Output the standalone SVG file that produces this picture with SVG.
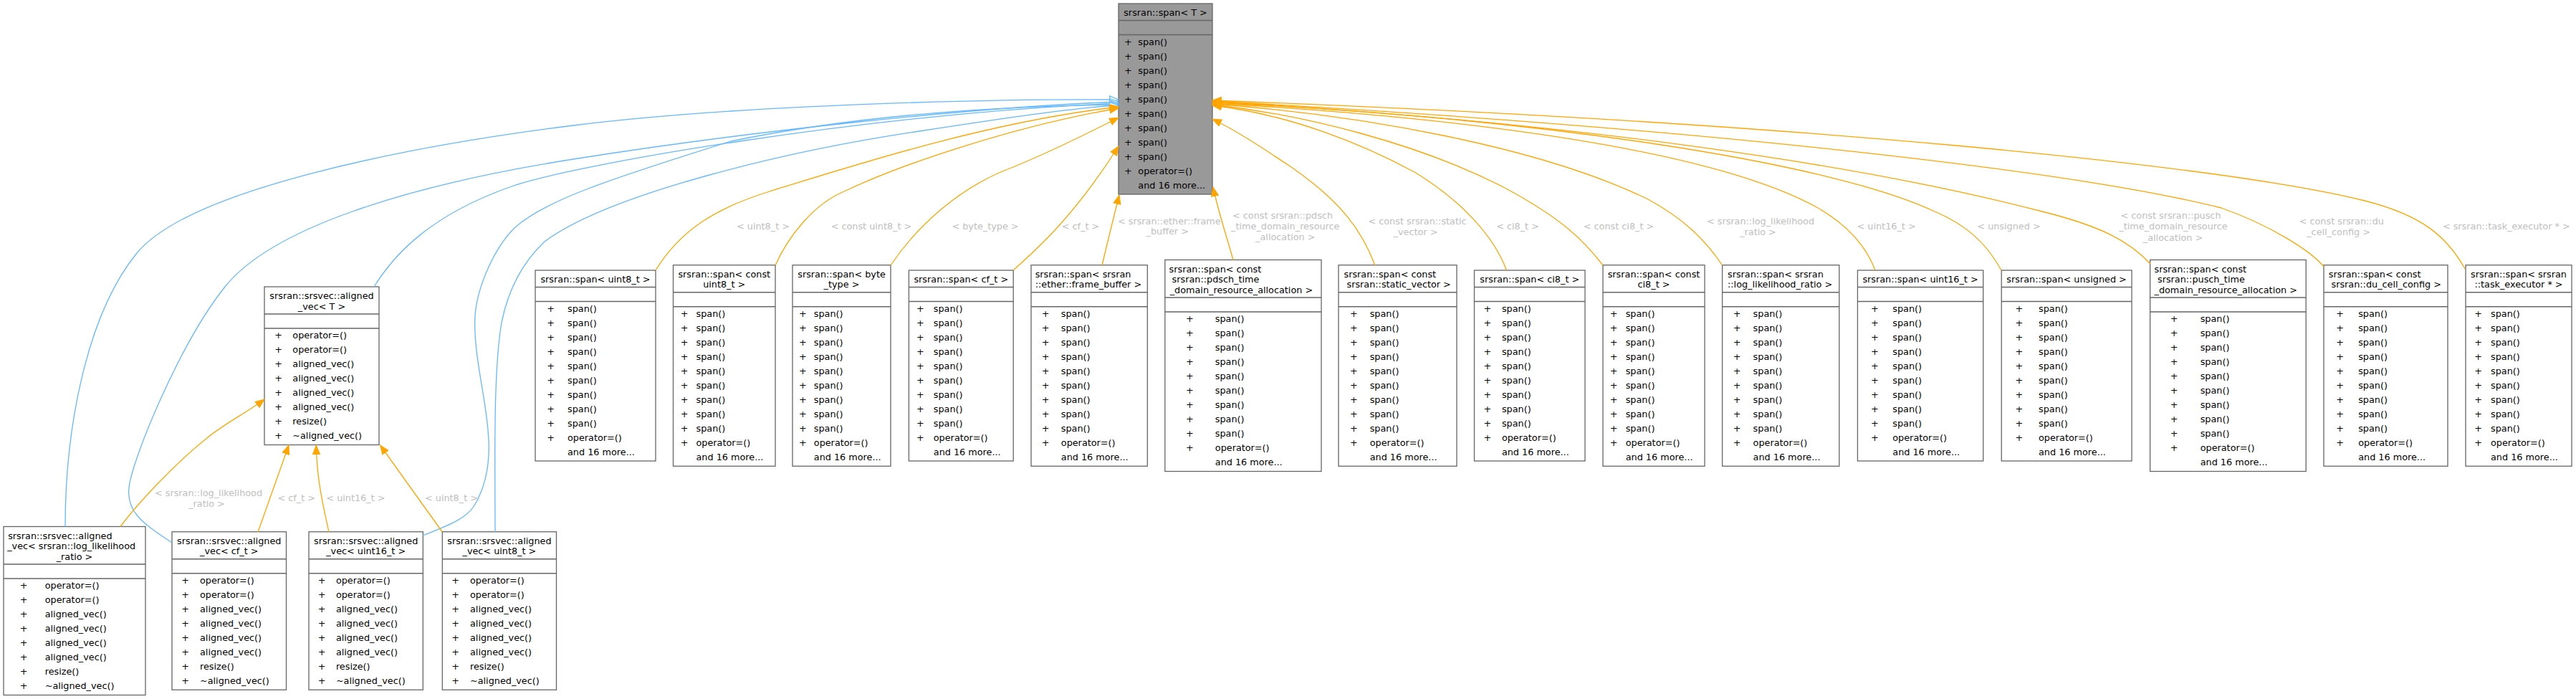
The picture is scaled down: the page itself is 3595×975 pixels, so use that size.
<svg xmlns="http://www.w3.org/2000/svg" width="3595" height="975" viewBox="0 0 3595 975">
<style>
text{font-family:"DejaVu Sans","Liberation Sans",sans-serif;font-size:12.8px;fill:#000}
.m{text-anchor:middle}
.nd rect{fill:#fff;stroke:#666;stroke-width:1.3}
.nd path{fill:none;stroke:#666;stroke-width:1.3}
#spanT rect{fill:#999}
.b{fill:none;stroke:#63B8FF;stroke-width:1.3;marker-end:url(#ab)}
.o{fill:none;stroke:#FFA500;stroke-width:1.3;marker-end:url(#ao)}
.l{fill:#BEBEBE;text-anchor:middle}
</style>
<defs>
<marker id="ao" markerUnits="userSpaceOnUse" markerWidth="14" markerHeight="12" viewBox="0 0 14 12" refX="13" refY="6" orient="auto"><path d="M0.5,1L13,6L0.5,11Z" fill="#FFA500" stroke="#FFA500"/></marker>
<marker id="ab" markerUnits="userSpaceOnUse" markerWidth="14" markerHeight="12" viewBox="0 0 14 12" refX="13" refY="6" orient="auto"><path d="M0.5,1L13,6L0.5,11Z" fill="#fff" stroke="#63B8FF" stroke-width="1.3"/></marker>
</defs>
<rect width="3595" height="975" fill="#fff"/>

<g id="spanT" class="nd" transform="translate(1561,5)">
<rect width="131" height="266"/><path d="M0,23.5H131M0,43.5H131"/>
<text class="m" x="65.5" y="17">srsran::span&lt; T &gt;</text>
<text class="m" x="13.3" y="57.5">+</text><text x="27.3" y="57.5">span()</text>
<text class="m" x="13.3" y="77.5">+</text><text x="27.3" y="77.5">span()</text>
<text class="m" x="13.3" y="97.5">+</text><text x="27.3" y="97.5">span()</text>
<text class="m" x="13.3" y="117.5">+</text><text x="27.3" y="117.5">span()</text>
<text class="m" x="13.3" y="137.5">+</text><text x="27.3" y="137.5">span()</text>
<text class="m" x="13.3" y="157.5">+</text><text x="27.3" y="157.5">span()</text>
<text class="m" x="13.3" y="177.5">+</text><text x="27.3" y="177.5">span()</text>
<text class="m" x="13.3" y="197.5">+</text><text x="27.3" y="197.5">span()</text>
<text class="m" x="13.3" y="217.5">+</text><text x="27.3" y="217.5">span()</text>
<text class="m" x="13.3" y="237.5">+</text><text x="27.3" y="237.5">operator=()</text>
<text x="27.3" y="257.5">and 16 more...</text>
</g>

<g id="alignedT" class="nd" transform="translate(369,400)">
<rect width="160" height="220.5"/><path d="M0,38H160M0,58H160"/>
<text class="m" x="80" y="17">srsran::srsvec::aligned</text>
<text class="m" x="80" y="31.5">_vec&lt; T &gt;</text>
<text class="m" x="19.7" y="72">+</text><text x="39.3" y="72">operator=()</text>
<text class="m" x="19.7" y="92">+</text><text x="39.3" y="92">operator=()</text>
<text class="m" x="19.7" y="112">+</text><text x="39.3" y="112">aligned_vec()</text>
<text class="m" x="19.7" y="132">+</text><text x="39.3" y="132">aligned_vec()</text>
<text class="m" x="19.7" y="152">+</text><text x="39.3" y="152">aligned_vec()</text>
<text class="m" x="19.7" y="172">+</text><text x="39.3" y="172">aligned_vec()</text>
<text class="m" x="19.7" y="192">+</text><text x="39.3" y="192">resize()</text>
<text class="m" x="19.7" y="212">+</text><text x="39.3" y="212">~aligned_vec()</text>
</g>

<g id="alignedLLR" class="nd" transform="translate(5,734.5)">
<rect width="198" height="235"/><path d="M0,52.5H198M0,72.5H198"/>
<text x="6.2" y="17">srsran::srsvec::aligned</text>
<text x="5.2" y="31.5">_vec&lt; srsran::log_likelihood</text>
<text class="m" x="99" y="46">_ratio &gt;</text>
<text class="m" x="28.1" y="86.5">+</text><text x="57.7" y="86.5">operator=()</text>
<text class="m" x="28.1" y="106.5">+</text><text x="57.7" y="106.5">operator=()</text>
<text class="m" x="28.1" y="126.5">+</text><text x="57.7" y="126.5">aligned_vec()</text>
<text class="m" x="28.1" y="146.5">+</text><text x="57.7" y="146.5">aligned_vec()</text>
<text class="m" x="28.1" y="166.5">+</text><text x="57.7" y="166.5">aligned_vec()</text>
<text class="m" x="28.1" y="186.5">+</text><text x="57.7" y="186.5">aligned_vec()</text>
<text class="m" x="28.1" y="206.5">+</text><text x="57.7" y="206.5">resize()</text>
<text class="m" x="28.1" y="226.5">+</text><text x="57.7" y="226.5">~aligned_vec()</text>
</g>

<g id="alignedCF" class="nd" transform="translate(240,741.75)">
<rect width="159.5" height="220.5"/><path d="M0,38H159.5M0,58H159.5"/>
<text class="m" x="79.75" y="17">srsran::srsvec::aligned</text>
<text class="m" x="79.75" y="31.5">_vec&lt; cf_t &gt;</text>
<text class="m" x="18.7" y="72">+</text><text x="39" y="72">operator=()</text>
<text class="m" x="18.7" y="92">+</text><text x="39" y="92">operator=()</text>
<text class="m" x="18.7" y="112">+</text><text x="39" y="112">aligned_vec()</text>
<text class="m" x="18.7" y="132">+</text><text x="39" y="132">aligned_vec()</text>
<text class="m" x="18.7" y="152">+</text><text x="39" y="152">aligned_vec()</text>
<text class="m" x="18.7" y="172">+</text><text x="39" y="172">aligned_vec()</text>
<text class="m" x="18.7" y="192">+</text><text x="39" y="192">resize()</text>
<text class="m" x="18.7" y="212">+</text><text x="39" y="212">~aligned_vec()</text>
</g>

<g id="alignedU16" class="nd" transform="translate(431,741.75)">
<rect width="159.3" height="220.5"/><path d="M0,38H159.3M0,58H159.3"/>
<text class="m" x="79.65" y="17">srsran::srsvec::aligned</text>
<text class="m" x="79.65" y="31.5">_vec&lt; uint16_t &gt;</text>
<text class="m" x="18" y="72">+</text><text x="37.9" y="72">operator=()</text>
<text class="m" x="18" y="92">+</text><text x="37.9" y="92">operator=()</text>
<text class="m" x="18" y="112">+</text><text x="37.9" y="112">aligned_vec()</text>
<text class="m" x="18" y="132">+</text><text x="37.9" y="132">aligned_vec()</text>
<text class="m" x="18" y="152">+</text><text x="37.9" y="152">aligned_vec()</text>
<text class="m" x="18" y="172">+</text><text x="37.9" y="172">aligned_vec()</text>
<text class="m" x="18" y="192">+</text><text x="37.9" y="192">resize()</text>
<text class="m" x="18" y="212">+</text><text x="37.9" y="212">~aligned_vec()</text>
</g>

<g id="alignedU8" class="nd" transform="translate(617.3,741.75)">
<rect width="159.2" height="220.5"/><path d="M0,38H159.2M0,58H159.2"/>
<text class="m" x="79.6" y="17">srsran::srsvec::aligned</text>
<text class="m" x="79.6" y="31.5">_vec&lt; uint8_t &gt;</text>
<text class="m" x="18.4" y="72">+</text><text x="38.7" y="72">operator=()</text>
<text class="m" x="18.4" y="92">+</text><text x="38.7" y="92">operator=()</text>
<text class="m" x="18.4" y="112">+</text><text x="38.7" y="112">aligned_vec()</text>
<text class="m" x="18.4" y="132">+</text><text x="38.7" y="132">aligned_vec()</text>
<text class="m" x="18.4" y="152">+</text><text x="38.7" y="152">aligned_vec()</text>
<text class="m" x="18.4" y="172">+</text><text x="38.7" y="172">aligned_vec()</text>
<text class="m" x="18.4" y="192">+</text><text x="38.7" y="192">resize()</text>
<text class="m" x="18.4" y="212">+</text><text x="38.7" y="212">~aligned_vec()</text>
</g>

<g id="spanU8" class="nd" transform="translate(747,377)">
<rect width="168" height="266"/><path d="M0,23.5H168M0,43.5H168"/>
<text class="m" x="84" y="17">srsran::span&lt; uint8_t &gt;</text>
<text class="m" x="21.5" y="57.5">+</text><text x="45" y="57.5">span()</text>
<text class="m" x="21.5" y="77.5">+</text><text x="45" y="77.5">span()</text>
<text class="m" x="21.5" y="97.5">+</text><text x="45" y="97.5">span()</text>
<text class="m" x="21.5" y="117.5">+</text><text x="45" y="117.5">span()</text>
<text class="m" x="21.5" y="137.5">+</text><text x="45" y="137.5">span()</text>
<text class="m" x="21.5" y="157.5">+</text><text x="45" y="157.5">span()</text>
<text class="m" x="21.5" y="177.5">+</text><text x="45" y="177.5">span()</text>
<text class="m" x="21.5" y="197.5">+</text><text x="45" y="197.5">span()</text>
<text class="m" x="21.5" y="217.5">+</text><text x="45" y="217.5">span()</text>
<text class="m" x="21.5" y="237.5">+</text><text x="45" y="237.5">operator=()</text>
<text x="45" y="257.5">and 16 more...</text>
</g>

<g id="spanConstU8" class="nd" transform="translate(939.5,369.75)">
<rect width="142.5" height="280.5"/><path d="M0,38H142.5M0,58H142.5"/>
<text class="m" x="71.25" y="17">srsran::span&lt; const</text>
<text class="m" x="71.25" y="31.5">uint8_t &gt;</text>
<text class="m" x="15.5" y="72">+</text><text x="32" y="72">span()</text>
<text class="m" x="15.5" y="92">+</text><text x="32" y="92">span()</text>
<text class="m" x="15.5" y="112">+</text><text x="32" y="112">span()</text>
<text class="m" x="15.5" y="132">+</text><text x="32" y="132">span()</text>
<text class="m" x="15.5" y="152">+</text><text x="32" y="152">span()</text>
<text class="m" x="15.5" y="172">+</text><text x="32" y="172">span()</text>
<text class="m" x="15.5" y="192">+</text><text x="32" y="192">span()</text>
<text class="m" x="15.5" y="212">+</text><text x="32" y="212">span()</text>
<text class="m" x="15.5" y="232">+</text><text x="32" y="232">span()</text>
<text class="m" x="15.5" y="252">+</text><text x="32" y="252">operator=()</text>
<text x="32" y="272">and 16 more...</text>
</g>

<g id="spanByte" class="nd" transform="translate(1106,369.75)">
<rect width="137" height="280.5"/><path d="M0,38H137M0,58H137"/>
<text class="m" x="68.5" y="17">srsran::span&lt; byte</text>
<text class="m" x="68.5" y="31.5">_type &gt;</text>
<text class="m" x="14.3" y="72">+</text><text x="29.8" y="72">span()</text>
<text class="m" x="14.3" y="92">+</text><text x="29.8" y="92">span()</text>
<text class="m" x="14.3" y="112">+</text><text x="29.8" y="112">span()</text>
<text class="m" x="14.3" y="132">+</text><text x="29.8" y="132">span()</text>
<text class="m" x="14.3" y="152">+</text><text x="29.8" y="152">span()</text>
<text class="m" x="14.3" y="172">+</text><text x="29.8" y="172">span()</text>
<text class="m" x="14.3" y="192">+</text><text x="29.8" y="192">span()</text>
<text class="m" x="14.3" y="212">+</text><text x="29.8" y="212">span()</text>
<text class="m" x="14.3" y="232">+</text><text x="29.8" y="232">span()</text>
<text class="m" x="14.3" y="252">+</text><text x="29.8" y="252">operator=()</text>
<text x="29.8" y="272">and 16 more...</text>
</g>

<g id="spanCF" class="nd" transform="translate(1268.4,377)">
<rect width="145.8" height="266"/><path d="M0,23.5H145.8M0,43.5H145.8"/>
<text class="m" x="72.9" y="17">srsran::span&lt; cf_t &gt;</text>
<text class="m" x="16.1" y="57.5">+</text><text x="34.4" y="57.5">span()</text>
<text class="m" x="16.1" y="77.5">+</text><text x="34.4" y="77.5">span()</text>
<text class="m" x="16.1" y="97.5">+</text><text x="34.4" y="97.5">span()</text>
<text class="m" x="16.1" y="117.5">+</text><text x="34.4" y="117.5">span()</text>
<text class="m" x="16.1" y="137.5">+</text><text x="34.4" y="137.5">span()</text>
<text class="m" x="16.1" y="157.5">+</text><text x="34.4" y="157.5">span()</text>
<text class="m" x="16.1" y="177.5">+</text><text x="34.4" y="177.5">span()</text>
<text class="m" x="16.1" y="197.5">+</text><text x="34.4" y="197.5">span()</text>
<text class="m" x="16.1" y="217.5">+</text><text x="34.4" y="217.5">span()</text>
<text class="m" x="16.1" y="237.5">+</text><text x="34.4" y="237.5">operator=()</text>
<text x="34.4" y="257.5">and 16 more...</text>
</g>

<g id="spanFrameBuffer" class="nd" transform="translate(1439,369.75)">
<rect width="162.3" height="280.5"/><path d="M0,38H162.3M0,58H162.3"/>
<text x="5.7" y="17">srsran::span&lt; srsran</text>
<text x="5.7" y="31.5">::ether::frame_buffer &gt;</text>
<text class="m" x="20" y="72">+</text><text x="41.8" y="72">span()</text>
<text class="m" x="20" y="92">+</text><text x="41.8" y="92">span()</text>
<text class="m" x="20" y="112">+</text><text x="41.8" y="112">span()</text>
<text class="m" x="20" y="132">+</text><text x="41.8" y="132">span()</text>
<text class="m" x="20" y="152">+</text><text x="41.8" y="152">span()</text>
<text class="m" x="20" y="172">+</text><text x="41.8" y="172">span()</text>
<text class="m" x="20" y="192">+</text><text x="41.8" y="192">span()</text>
<text class="m" x="20" y="212">+</text><text x="41.8" y="212">span()</text>
<text class="m" x="20" y="232">+</text><text x="41.8" y="232">span()</text>
<text class="m" x="20" y="252">+</text><text x="41.8" y="252">operator=()</text>
<text x="41.8" y="272">and 16 more...</text>
</g>

<g id="spanPdsch" class="nd" transform="translate(1625.8,362.5)">
<rect width="218.2" height="295"/><path d="M0,52.5H218.2M0,72.5H218.2"/>
<text x="5.8" y="17">srsran::span&lt; const</text>
<text x="9.8" y="31.5">srsran::pdsch_time</text>
<text x="6.9" y="46">_domain_resource_allocation &gt;</text>
<text class="m" x="34.5" y="86.5">+</text><text x="70" y="86.5">span()</text>
<text class="m" x="34.5" y="106.5">+</text><text x="70" y="106.5">span()</text>
<text class="m" x="34.5" y="126.5">+</text><text x="70" y="126.5">span()</text>
<text class="m" x="34.5" y="146.5">+</text><text x="70" y="146.5">span()</text>
<text class="m" x="34.5" y="166.5">+</text><text x="70" y="166.5">span()</text>
<text class="m" x="34.5" y="186.5">+</text><text x="70" y="186.5">span()</text>
<text class="m" x="34.5" y="206.5">+</text><text x="70" y="206.5">span()</text>
<text class="m" x="34.5" y="226.5">+</text><text x="70" y="226.5">span()</text>
<text class="m" x="34.5" y="246.5">+</text><text x="70" y="246.5">span()</text>
<text class="m" x="34.5" y="266.5">+</text><text x="70" y="266.5">operator=()</text>
<text x="70" y="286.5">and 16 more...</text>
</g>

<g id="spanStaticVector" class="nd" transform="translate(1868,369.75)">
<rect width="165" height="280.5"/><path d="M0,38H165M0,58H165"/>
<text x="7.5" y="17">srsran::span&lt; const</text>
<text x="11.5" y="31.5">srsran::static_vector &gt;</text>
<text class="m" x="21.3" y="72">+</text><text x="43.7" y="72">span()</text>
<text class="m" x="21.3" y="92">+</text><text x="43.7" y="92">span()</text>
<text class="m" x="21.3" y="112">+</text><text x="43.7" y="112">span()</text>
<text class="m" x="21.3" y="132">+</text><text x="43.7" y="132">span()</text>
<text class="m" x="21.3" y="152">+</text><text x="43.7" y="152">span()</text>
<text class="m" x="21.3" y="172">+</text><text x="43.7" y="172">span()</text>
<text class="m" x="21.3" y="192">+</text><text x="43.7" y="192">span()</text>
<text class="m" x="21.3" y="212">+</text><text x="43.7" y="212">span()</text>
<text class="m" x="21.3" y="232">+</text><text x="43.7" y="232">span()</text>
<text class="m" x="21.3" y="252">+</text><text x="43.7" y="252">operator=()</text>
<text x="43.7" y="272">and 16 more...</text>
</g>

<g id="spanCI8" class="nd" transform="translate(2057.5,377)">
<rect width="154.5" height="266"/><path d="M0,23.5H154.5M0,43.5H154.5"/>
<text class="m" x="77.25" y="17">srsran::span&lt; ci8_t &gt;</text>
<text class="m" x="18.3" y="57.5">+</text><text x="38.4" y="57.5">span()</text>
<text class="m" x="18.3" y="77.5">+</text><text x="38.4" y="77.5">span()</text>
<text class="m" x="18.3" y="97.5">+</text><text x="38.4" y="97.5">span()</text>
<text class="m" x="18.3" y="117.5">+</text><text x="38.4" y="117.5">span()</text>
<text class="m" x="18.3" y="137.5">+</text><text x="38.4" y="137.5">span()</text>
<text class="m" x="18.3" y="157.5">+</text><text x="38.4" y="157.5">span()</text>
<text class="m" x="18.3" y="177.5">+</text><text x="38.4" y="177.5">span()</text>
<text class="m" x="18.3" y="197.5">+</text><text x="38.4" y="197.5">span()</text>
<text class="m" x="18.3" y="217.5">+</text><text x="38.4" y="217.5">span()</text>
<text class="m" x="18.3" y="237.5">+</text><text x="38.4" y="237.5">operator=()</text>
<text x="38.4" y="257.5">and 16 more...</text>
</g>

<g id="spanConstCI8" class="nd" transform="translate(2237,369.75)">
<rect width="142" height="280.5"/><path d="M0,38H142M0,58H142"/>
<text class="m" x="71" y="17">srsran::span&lt; const</text>
<text class="m" x="71" y="31.5">ci8_t &gt;</text>
<text class="m" x="15" y="72">+</text><text x="31.7" y="72">span()</text>
<text class="m" x="15" y="92">+</text><text x="31.7" y="92">span()</text>
<text class="m" x="15" y="112">+</text><text x="31.7" y="112">span()</text>
<text class="m" x="15" y="132">+</text><text x="31.7" y="132">span()</text>
<text class="m" x="15" y="152">+</text><text x="31.7" y="152">span()</text>
<text class="m" x="15" y="172">+</text><text x="31.7" y="172">span()</text>
<text class="m" x="15" y="192">+</text><text x="31.7" y="192">span()</text>
<text class="m" x="15" y="212">+</text><text x="31.7" y="212">span()</text>
<text class="m" x="15" y="232">+</text><text x="31.7" y="232">span()</text>
<text class="m" x="15" y="252">+</text><text x="31.7" y="252">operator=()</text>
<text x="31.7" y="272">and 16 more...</text>
</g>

<g id="spanLLR" class="nd" transform="translate(2403.6,369.75)">
<rect width="163.2" height="280.5"/><path d="M0,38H163.2M0,58H163.2"/>
<text x="7.4" y="17">srsran::span&lt; srsran</text>
<text x="7.4" y="31.5">::log_likelihood_ratio &gt;</text>
<text class="m" x="20.6" y="72">+</text><text x="43" y="72">span()</text>
<text class="m" x="20.6" y="92">+</text><text x="43" y="92">span()</text>
<text class="m" x="20.6" y="112">+</text><text x="43" y="112">span()</text>
<text class="m" x="20.6" y="132">+</text><text x="43" y="132">span()</text>
<text class="m" x="20.6" y="152">+</text><text x="43" y="152">span()</text>
<text class="m" x="20.6" y="172">+</text><text x="43" y="172">span()</text>
<text class="m" x="20.6" y="192">+</text><text x="43" y="192">span()</text>
<text class="m" x="20.6" y="212">+</text><text x="43" y="212">span()</text>
<text class="m" x="20.6" y="232">+</text><text x="43" y="232">span()</text>
<text class="m" x="20.6" y="252">+</text><text x="43" y="252">operator=()</text>
<text x="43" y="272">and 16 more...</text>
</g>

<g id="spanU16" class="nd" transform="translate(2592.4,377)">
<rect width="175.3" height="266"/><path d="M0,23.5H175.3M0,43.5H175.3"/>
<text class="m" x="87.65" y="17">srsran::span&lt; uint16_t &gt;</text>
<text class="m" x="24.1" y="57.5">+</text><text x="48.9" y="57.5">span()</text>
<text class="m" x="24.1" y="77.5">+</text><text x="48.9" y="77.5">span()</text>
<text class="m" x="24.1" y="97.5">+</text><text x="48.9" y="97.5">span()</text>
<text class="m" x="24.1" y="117.5">+</text><text x="48.9" y="117.5">span()</text>
<text class="m" x="24.1" y="137.5">+</text><text x="48.9" y="137.5">span()</text>
<text class="m" x="24.1" y="157.5">+</text><text x="48.9" y="157.5">span()</text>
<text class="m" x="24.1" y="177.5">+</text><text x="48.9" y="177.5">span()</text>
<text class="m" x="24.1" y="197.5">+</text><text x="48.9" y="197.5">span()</text>
<text class="m" x="24.1" y="217.5">+</text><text x="48.9" y="217.5">span()</text>
<text class="m" x="24.1" y="237.5">+</text><text x="48.9" y="237.5">operator=()</text>
<text x="48.9" y="257.5">and 16 more...</text>
</g>

<g id="spanUnsigned" class="nd" transform="translate(2793.2,377)">
<rect width="181.8" height="266"/><path d="M0,23.5H181.8M0,43.5H181.8"/>
<text class="m" x="90.9" y="17">srsran::span&lt; unsigned &gt;</text>
<text class="m" x="24.8" y="57.5">+</text><text x="51.8" y="57.5">span()</text>
<text class="m" x="24.8" y="77.5">+</text><text x="51.8" y="77.5">span()</text>
<text class="m" x="24.8" y="97.5">+</text><text x="51.8" y="97.5">span()</text>
<text class="m" x="24.8" y="117.5">+</text><text x="51.8" y="117.5">span()</text>
<text class="m" x="24.8" y="137.5">+</text><text x="51.8" y="137.5">span()</text>
<text class="m" x="24.8" y="157.5">+</text><text x="51.8" y="157.5">span()</text>
<text class="m" x="24.8" y="177.5">+</text><text x="51.8" y="177.5">span()</text>
<text class="m" x="24.8" y="197.5">+</text><text x="51.8" y="197.5">span()</text>
<text class="m" x="24.8" y="217.5">+</text><text x="51.8" y="217.5">span()</text>
<text class="m" x="24.8" y="237.5">+</text><text x="51.8" y="237.5">operator=()</text>
<text x="51.8" y="257.5">and 16 more...</text>
</g>

<g id="spanPusch" class="nd" transform="translate(3000.6,362.5)">
<rect width="217.6" height="295"/><path d="M0,52.5H217.6M0,72.5H217.6"/>
<text x="5.9" y="17">srsran::span&lt; const</text>
<text x="10.4" y="31.5">srsran::pusch_time</text>
<text x="5.9" y="46">_domain_resource_allocation &gt;</text>
<text class="m" x="33.6" y="86.5">+</text><text x="70.1" y="86.5">span()</text>
<text class="m" x="33.6" y="106.5">+</text><text x="70.1" y="106.5">span()</text>
<text class="m" x="33.6" y="126.5">+</text><text x="70.1" y="126.5">span()</text>
<text class="m" x="33.6" y="146.5">+</text><text x="70.1" y="146.5">span()</text>
<text class="m" x="33.6" y="166.5">+</text><text x="70.1" y="166.5">span()</text>
<text class="m" x="33.6" y="186.5">+</text><text x="70.1" y="186.5">span()</text>
<text class="m" x="33.6" y="206.5">+</text><text x="70.1" y="206.5">span()</text>
<text class="m" x="33.6" y="226.5">+</text><text x="70.1" y="226.5">span()</text>
<text class="m" x="33.6" y="246.5">+</text><text x="70.1" y="246.5">span()</text>
<text class="m" x="33.6" y="266.5">+</text><text x="70.1" y="266.5">operator=()</text>
<text x="70.1" y="286.5">and 16 more...</text>
</g>

<g id="spanDuCellConfig" class="nd" transform="translate(3243,369.75)">
<rect width="173" height="280.5"/><path d="M0,38H173M0,58H173"/>
<text x="6.8" y="17">srsran::span&lt; const</text>
<text x="10.5" y="31.5">srsran::du_cell_config &gt;</text>
<text class="m" x="22.7" y="72">+</text><text x="48.2" y="72">span()</text>
<text class="m" x="22.7" y="92">+</text><text x="48.2" y="92">span()</text>
<text class="m" x="22.7" y="112">+</text><text x="48.2" y="112">span()</text>
<text class="m" x="22.7" y="132">+</text><text x="48.2" y="132">span()</text>
<text class="m" x="22.7" y="152">+</text><text x="48.2" y="152">span()</text>
<text class="m" x="22.7" y="172">+</text><text x="48.2" y="172">span()</text>
<text class="m" x="22.7" y="192">+</text><text x="48.2" y="192">span()</text>
<text class="m" x="22.7" y="212">+</text><text x="48.2" y="212">span()</text>
<text class="m" x="22.7" y="232">+</text><text x="48.2" y="232">span()</text>
<text class="m" x="22.7" y="252">+</text><text x="48.2" y="252">operator=()</text>
<text x="48.2" y="272">and 16 more...</text>
</g>

<g id="spanTaskExecutor" class="nd" transform="translate(3441,369.75)">
<rect width="148" height="280.5"/><path d="M0,38H148M0,58H148"/>
<text class="m" x="74" y="17">srsran::span&lt; srsran</text>
<text class="m" x="74" y="31.5">::task_executor * &gt;</text>
<text class="m" x="17.5" y="72">+</text><text x="35" y="72">span()</text>
<text class="m" x="17.5" y="92">+</text><text x="35" y="92">span()</text>
<text class="m" x="17.5" y="112">+</text><text x="35" y="112">span()</text>
<text class="m" x="17.5" y="132">+</text><text x="35" y="132">span()</text>
<text class="m" x="17.5" y="152">+</text><text x="35" y="152">span()</text>
<text class="m" x="17.5" y="172">+</text><text x="35" y="172">span()</text>
<text class="m" x="17.5" y="192">+</text><text x="35" y="192">span()</text>
<text class="m" x="17.5" y="212">+</text><text x="35" y="212">span()</text>
<text class="m" x="17.5" y="232">+</text><text x="35" y="232">span()</text>
<text class="m" x="17.5" y="252">+</text><text x="35" y="252">operator=()</text>
<text x="35" y="272">and 16 more...</text>
</g>

<g id="connectors">
<path class="b" d="M91,734.5C91,600 120,440 191,353C262,266 560,205 800,175C1040,145 1400,138 1561,139"/>
<path class="b" d="M240,757C200,730 176,715 180,680C184,642 250,480 314,400C378,320 560,260 800,222C1040,184 1350,150 1561,142"/>
<path class="b" d="M522,400C550,355 600,300 714,260C800,230 1200,160 1561,144"/>
<path class="b" d="M590,747C620,735 650,725 662,705C680,675 685,640 681,600C677,550 660,490 663,440C666,400 690,345 719,317C760,280 850,250 1020,197C1200,160 1400,148 1561,146"/>
<path class="b" d="M691,742C691,650 688,520 700,450C708,410 725,370 760,337C850,270 1100,210 1283,183C1400,165 1500,150 1561,147"/>
<path class="o" d="M915,377C950,320 1000,290 1074,267C1200,228 1380,170 1561,149"/>
<path class="o" d="M1082,370C1100,330 1135,285 1178,267C1260,228 1420,175 1561,151"/>
<path class="o" d="M1243,370C1280,315 1340,260 1414,233C1470,210 1520,185 1561,164"/>
<path class="o" d="M1414,377C1450,345 1500,300 1561,204"/>
<path class="o" d="M1538,370C1545,340 1555,300 1562,272"/>
<path class="o" d="M1721,362.5C1712,330 1700,295 1693,261"/>
<path class="o" d="M1919,370C1900,320 1870,280 1802,233C1760,205 1725,182 1692,166"/>
<path class="o" d="M2102.5,377C2085,330 2040,280 1974,240C1900,200 1800,160 1692,147"/>
<path class="o" d="M2237,370C2210,335 2180,305 2100,262C1980,200 1820,160 1692,146"/>
<path class="o" d="M2403.6,370C2380,335 2350,305 2300,278C2150,205 1900,160 1692,145"/>
<path class="o" d="M2617,377C2605,345 2580,315 2537,290C2420,225 2150,170 1692,144"/>
<path class="o" d="M2793,377C2770,335 2740,312 2700,295C2550,225 2150,165 1692,143"/>
<path class="o" d="M3001,368C2970,335 2930,315 2850,295C2600,230 2200,170 1692,142"/>
<path class="o" d="M3243,372C3225,350 3170,315 3100,290C2900,240 2400,180 1692,141"/>
<path class="o" d="M3440,375C3415,330 3380,300 3300,280C3100,230 2500,170 1692,140"/>
<path class="o" d="M168,734.5C190,705 240,650 290,610C315,590 345,575 369,557"/>
<path class="o" d="M360,742L403,621"/>
<path class="o" d="M459,742C452,710 442,670 441.3,621"/>
<path class="o" d="M617.3,742L530.6,621"/>
<text class="l" x="291" y="692">&lt; srsran::log_likelihood</text>
<text class="l" x="288.5" y="707">_ratio &gt;</text>
<text class="l" x="413.8" y="699">&lt; cf_t &gt;</text>
<text class="l" x="496.4" y="699">&lt; uint16_t &gt;</text>
<text class="l" x="630" y="699">&lt; uint8_t &gt;</text>
<text class="l" x="1065" y="320">&lt; uint8_t &gt;</text>
<text class="l" x="1216" y="320">&lt; const uint8_t &gt;</text>
<text class="l" x="1375" y="320">&lt; byte_type &gt;</text>
<text class="l" x="1508" y="320">&lt; cf_t &gt;</text>
<text class="l" x="1631.8" y="313">&lt; srsran::ether::frame</text>
<text class="l" x="1629.2" y="327">_buffer &gt;</text>
<text class="l" x="1790" y="304.5">&lt; const srsran::pdsch</text>
<text class="l" x="1793.8" y="319.5">_time_domain_resource</text>
<text class="l" x="1793.8" y="334.5">_allocation &gt;</text>
<text class="l" x="1978" y="313">&lt; const srsran::static</text>
<text class="l" x="1975.5" y="327.5">_vector &gt;</text>
<text class="l" x="2118" y="320">&lt; ci8_t &gt;</text>
<text class="l" x="2259" y="320">&lt; const ci8_t &gt;</text>
<text class="l" x="2457" y="313">&lt; srsran::log_likelihood</text>
<text class="l" x="2453.5" y="327.5">_ratio &gt;</text>
<text class="l" x="2632.6" y="320">&lt; uint16_t &gt;</text>
<text class="l" x="2803.5" y="320">&lt; unsigned &gt;</text>
<text class="l" x="3029.5" y="304.5">&lt; const srsran::pusch</text>
<text class="l" x="3033" y="320">_time_domain_resource</text>
<text class="l" x="3032.5" y="335.5">_allocation &gt;</text>
<text class="l" x="3267.8" y="313">&lt; const srsran::du</text>
<text class="l" x="3263.6" y="327.5">_cell_config &gt;</text>
<text class="l" x="3497.8" y="320">&lt; srsran::task_executor * &gt;</text>
</g>
</svg>
